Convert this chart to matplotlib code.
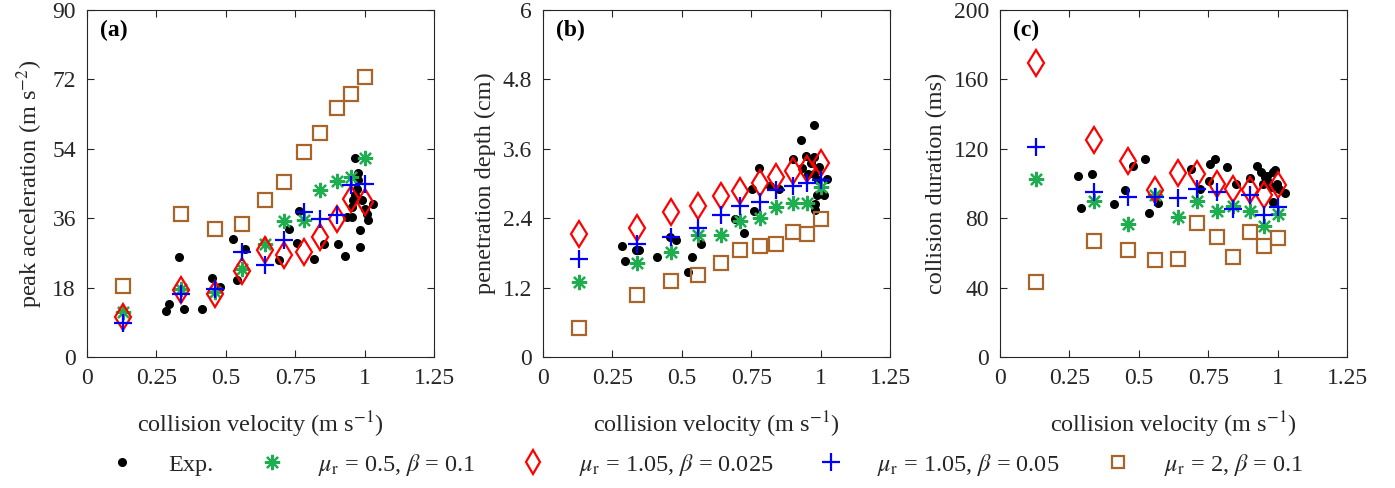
import matplotlib
matplotlib.use("Agg")
import matplotlib.pyplot as plt
from matplotlib.lines import Line2D

plt.rcParams['font.family'] = ['Liberation Serif', 'DejaVu Serif']
plt.rcParams['mathtext.fontset'] = 'stix'
TXT = '#262626'
plt.rcParams['text.color'] = TXT
plt.rcParams['axes.labelcolor'] = TXT
plt.rcParams['xtick.color'] = TXT
plt.rcParams['ytick.color'] = TXT

# model collision velocities (m/s)
v_model = [0.13, 0.34, 0.46, 0.56, 0.64, 0.71, 0.78, 0.84, 0.90, 0.95, 1.0]

# (a) peak acceleration (m s^-2)
acc_mu05_b01 = [11.7, 17.7, 16.9, 22.9, 29.4, 35.2, 35.5, 43.3, 45.6, 46.7, 51.5]
acc_mu105_b0025 = [10.4, 17.3, 16.3, 22.2, 27.7, 26.5, 27.3, 31.2, 35.8, 41.0, 40.2]
acc_mu105_b005 = [8.7, 16.4, 17.7, 27.3, 23.8, 30.4, 37.6, 35.7, 36.8, 44.5, 44.8]
acc_mu2_b01 = [18.3, 37.2, 33.1, 34.4, 40.8, 45.4, 53.2, 58.2, 64.6, 68.1, 72.7]
exp_v_a = [0.284, 0.294, 0.332, 0.350, 0.414, 0.452, 0.479, 0.525, 0.539, 0.569,
           0.693, 0.726, 0.756, 0.762, 0.816, 0.852, 0.903, 0.930, 0.936, 0.954,
           0.966, 0.978, 0.978, 0.982, 0.984, 0.960, 0.954, 0.972, 0.990, 1.002,
           1.014, 1.030, 0.966, 1.008]
exp_acc = [11.9, 13.7, 26.0, 12.5, 12.5, 20.6, 18.2, 30.7, 19.9, 28.1,
           25.1, 33.3, 29.6, 37.9, 25.5, 29.4, 29.3, 26.2, 36.2, 36.2,
           51.5, 47.6, 45.9, 28.6, 32.9, 40.7, 38.9, 43.7, 40.7, 38.5,
           35.5, 39.6, 42.0, 37.2]

# (b) penetration depth (cm)
pen_mu05_b01 = [1.30, 1.63, 1.82, 2.11, 2.11, 2.35, 2.41, 2.60, 2.67, 2.67, 2.94]
pen_mu105_b0025 = [2.13, 2.23, 2.50, 2.61, 2.79, 2.87, 3.01, 3.12, 3.21, 3.25, 3.36]
pen_mu105_b005 = [1.70, 1.96, 2.07, 2.23, 2.45, 2.61, 2.68, 2.88, 2.95, 3.01, 3.06]
pen_mu2_b01 = [0.50, 1.08, 1.31, 1.41, 1.62, 1.85, 1.92, 1.95, 2.16, 2.12, 2.38]
exp_v_b = [0.283, 0.294, 0.345, 0.412, 0.456, 0.480, 0.522, 0.538, 0.570, 0.693,
           0.723, 0.754, 0.759, 0.777, 0.816, 0.850, 0.900, 0.930, 0.948, 0.934,
           0.954, 0.976, 0.975, 0.966, 0.980, 0.981, 0.987, 0.990, 1.014, 1.023,
           0.996, 0.975, 0.336]
exp_pen = [1.92, 1.66, 1.85, 1.73, 2.07, 2.03, 1.47, 1.73, 1.96, 2.39,
           2.15, 2.91, 2.53, 3.26, 2.95, 2.90, 3.43, 3.76, 3.48, 3.26,
           3.17, 4.01, 3.46, 3.35, 2.54, 2.65, 2.80, 3.06, 2.80, 3.07,
           3.29, 3.17, 1.85]

# (c) collision duration (ms)
dur_mu05_b01 = [102.7, 89.8, 76.7, 93.4, 80.9, 90.2, 84.0, 86.9, 84.4, 75.7, 82.5]
dur_mu105_b0025 = [169.2, 124.9, 112.7, 96.0, 106.2, 105.2, 99.8, 96.9, 96.0, 93.4, 99.2]
dur_mu105_b005 = [121.0, 95.0, 92.1, 92.5, 91.7, 96.9, 95.0, 85.4, 93.1, 81.9, 86.3]
dur_mu2_b01 = [43.5, 66.7, 61.7, 55.9, 56.5, 77.1, 69.4, 57.4, 72.3, 63.8, 68.6]
exp_v_c = [0.282, 0.293, 0.333, 0.411, 0.451, 0.480, 0.522, 0.538, 0.568, 0.689,
           0.719, 0.756, 0.776, 0.752, 0.816, 0.850, 0.901, 0.925, 0.941, 0.955,
           0.967, 0.985, 0.992, 0.946, 0.979, 1.006, 1.025, 0.982, 0.998, 0.962]
exp_dur = [104.2, 85.9, 105.2, 88.2, 96.0, 110.0, 114.1, 83.0, 88.8, 108.5,
           96.9, 111.4, 114.3, 101.7, 109.4, 99.8, 103.1, 109.8, 106.5, 103.7,
           100.8, 106.5, 107.5, 99.8, 97.9, 96.9, 94.4, 89.2, 99.8, 104.6]

x_ticks = [0, 0.25, 0.5, 0.75, 1, 1.25]
x_ticklabels = ['0', '0.25', '0.5', '0.75', '1', '1.25']
y_ticks_a = [0, 18, 36, 54, 72, 90]
y_ticks_b = [0, 1.2, 2.4, 3.6, 4.8, 6]
y_ticks_c = [0, 40, 80, 120, 160, 200]

legend_labels = ['Exp.',
                 r'$\mu_{\rm r}$ = 0.5, $\beta$ = 0.1',
                 r'$\mu_{\rm r}$ = 1.05, $\beta$ = 0.025',
                 r'$\mu_{\rm r}$ = 1.05, $\beta$ = 0.05',
                 r'$\mu_{\rm r}$ = 2, $\beta$ = 0.1']

GREEN = '#1fae4f'
BROWN = '#a7652b'
STAR = (8, 2, 0)

fig = plt.figure(figsize=(13.95, 4.88), dpi=100)
W, H = 1395, 488
lefts = [87, 543, 1000]
axw, axh = 347, 347
top = 10
axes = [fig.add_axes([l / W, (H - top - axh) / H, axw / W, axh / H]) for l in lefts]

panels = [
    (exp_v_a, exp_acc, acc_mu05_b01, acc_mu105_b0025, acc_mu105_b005, acc_mu2_b01,
     y_ticks_a, ['0', '18', '36', '54', '72', '90'], 'peak acceleration (m s$^{-2}$)', '(a)'),
    (exp_v_b, exp_pen, pen_mu05_b01, pen_mu105_b0025, pen_mu105_b005, pen_mu2_b01,
     y_ticks_b, ['0', '1.2', '2.4', '3.6', '4.8', '6'], 'penetration depth (cm)', '(b)'),
    (exp_v_c, exp_dur, dur_mu05_b01, dur_mu105_b0025, dur_mu105_b005, dur_mu2_b01,
     y_ticks_c, ['0', '40', '80', '120', '160', '200'], 'collision duration (ms)', '(c)'),
]

for ax, (ev, ey, g, r, b, s, yt, ytl, ylab, tag) in zip(axes, panels):
    ax.plot(ev, ey, 'o', color='black', markersize=5.5, linestyle='none', zorder=2)
    ax.plot(v_model, g, linestyle='none', marker=STAR, color=GREEN, markersize=11,
            markeredgewidth=1.6, zorder=3)
    ax.plot(v_model, r, linestyle='none', marker='d', markerfacecolor='none',
            markeredgecolor='red', markersize=13, markeredgewidth=1.6, zorder=4)
    ax.plot(v_model, b, linestyle='none', marker='+', color='blue', markersize=13,
            markeredgewidth=1.6, zorder=5)
    ax.plot(v_model, s, linestyle='none', marker='s', markerfacecolor='none',
            markeredgecolor=BROWN, markersize=10, markeredgewidth=1.6, zorder=3)
    ax.set_xlim(0, 1.25)
    ax.set_ylim(yt[0], yt[-1])
    ax.set_xticks(x_ticks)
    ax.set_xticklabels(x_ticklabels)
    ax.set_yticks(yt)
    ax.set_yticklabels(ytl)
    ax.tick_params(direction='in', top=True, right=True, length=5, width=0.8,
                   labelsize=17, color='#262626', pad=8)
    for sp in ax.spines.values():
        sp.set_color('#262626')
        sp.set_linewidth(0.8)
    ax.set_xlabel('collision velocity (m s$^{-1}$)', fontsize=17.5, labelpad=15)
    ax.set_ylabel(ylab, fontsize=17.5, labelpad=5)
    ax.text(0.037, 0.94, tag, transform=ax.transAxes, fontsize=17, fontweight='bold',
            va='center', ha='left', color='black')

handles = [
    Line2D([], [], linestyle='none', marker='o', color='black', markersize=5.5),
    Line2D([], [], linestyle='none', marker=STAR, color=GREEN, markersize=11, markeredgewidth=1.6),
    Line2D([], [], linestyle='none', marker='d', markerfacecolor='none', markeredgecolor='red',
           markersize=12, markeredgewidth=1.6),
    Line2D([], [], linestyle='none', marker='+', color='blue', markersize=13, markeredgewidth=1.6),
    Line2D([], [], linestyle='none', marker='s', markerfacecolor='none', markeredgecolor=BROWN,
           markersize=9, markeredgewidth=1.6),
]
fig.legend(handles, legend_labels, loc='center left', bbox_to_anchor=(98 / W, 1 - 465 / H),
           ncol=5, frameon=False, fontsize=17.5, borderpad=0, borderaxespad=0,
           handlelength=2.0, handletextpad=0.89, columnspacing=1.39)

fig.savefig('out.png', dpi=100)
